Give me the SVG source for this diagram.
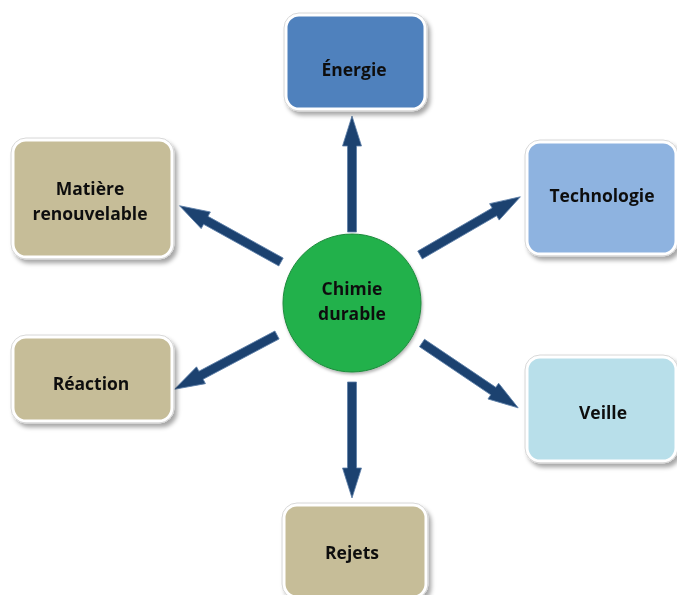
<svg xmlns="http://www.w3.org/2000/svg" width="677" height="595" viewBox="0 0 677 595">
<style>
.box{stroke:#ffffff;stroke-width:3}
.edge{fill:none;stroke:#d8d8d8;stroke-width:1}
.lbl{font-family:"Open Sans","Liberation Sans",sans-serif;font-weight:bold;font-size:17.5px;fill:#111111;text-anchor:middle;dominant-baseline:central}
.arr{fill:#1c4270;stroke:#5d7fa8;stroke-width:0.8}
</style>
<defs>
<filter id="sh" x="-10%" y="-10%" width="125%" height="130%">
<feGaussianBlur in="SourceAlpha" stdDeviation="2"/>
<feOffset dx="3" dy="4" result="b"/>
<feFlood flood-color="#000" flood-opacity="0.35"/>
<feComposite in2="b" operator="in"/>
<feMerge><feMergeNode/><feMergeNode in="SourceGraphic"/></feMerge>
</filter>
<filter id="sh2" x="-10%" y="-10%" width="125%" height="125%">
<feGaussianBlur in="SourceAlpha" stdDeviation="1.5"/>
<feOffset dx="1" dy="2" result="b"/>
<feFlood flood-color="#000" flood-opacity="0.3"/>
<feComposite in2="b" operator="in"/>
<feMerge><feMergeNode/><feMergeNode in="SourceGraphic"/></feMerge>
</filter>
<path id="a" class="arr" d="M0,-4.5 L86,-4.5 L86,-9.5 L116,0 L86,9.5 L86,4.5 L0,4.5 Z"/>
</defs>
<g id="connectors">
<use href="#a" transform="translate(352,232) rotate(-90)"/>
<use href="#a" transform="translate(420,255) rotate(-30.1)"/>
<use href="#a" transform="translate(422,343) rotate(34)"/>
<use href="#a" transform="translate(352,382) rotate(90)"/>
<use href="#a" transform="translate(277,335) rotate(152.1)"/>
<use href="#a" transform="translate(281,262) rotate(-151)"/>
</g>
<g id="energie" filter="url(#sh)">
<rect class="box" x="286" y="15" width="139" height="94" rx="13" fill="#4f81bd"/>
<rect class="edge" x="284" y="13" width="143" height="98" rx="15"/>
<text class="lbl" x="354" y="69">Énergie</text>
</g>
<g id="technologie" filter="url(#sh)">
<rect class="box" x="527" y="142" width="149" height="112" rx="13" fill="#8eb3e0"/>
<rect class="edge" x="525" y="140" width="153" height="116" rx="15"/>
<text class="lbl" x="602" y="195">Technologie</text>
</g>
<g id="veille" filter="url(#sh)">
<rect class="box" x="527" y="357" width="149" height="104" rx="13" fill="#b8dfea"/>
<rect class="edge" x="525" y="355" width="153" height="108" rx="15"/>
<text class="lbl" x="603" y="412">Veille</text>
</g>
<g id="rejets" filter="url(#sh)">
<rect class="box" x="284" y="505" width="142" height="92" rx="13" fill="#c6bd98"/>
<rect class="edge" x="282" y="503" width="146" height="96" rx="15"/>
<text class="lbl" x="352" y="552">Rejets</text>
</g>
<g id="reaction" filter="url(#sh)">
<rect class="box" x="13" y="337" width="159" height="84" rx="13" fill="#c6bd98"/>
<rect class="edge" x="11" y="335" width="163" height="88" rx="15"/>
<text class="lbl" x="91" y="383">Réaction</text>
</g>
<g id="matiere" filter="url(#sh)">
<rect class="box" x="13" y="140" width="159" height="117" rx="13" fill="#c6bd98"/>
<rect class="edge" x="11" y="138" width="163" height="121" rx="15"/>
<text class="lbl" x="90" y="188">Matière</text>
<text class="lbl" x="90" y="213">renouvelable</text>
</g>
<g id="chimie" filter="url(#sh2)">
<circle cx="352" cy="303" r="69" fill="#22b14c" stroke="#1e8a3c" stroke-width="1"/>
<text class="lbl" x="352" y="288">Chimie</text>
<text class="lbl" x="352" y="313">durable</text>
</g>
</svg>
